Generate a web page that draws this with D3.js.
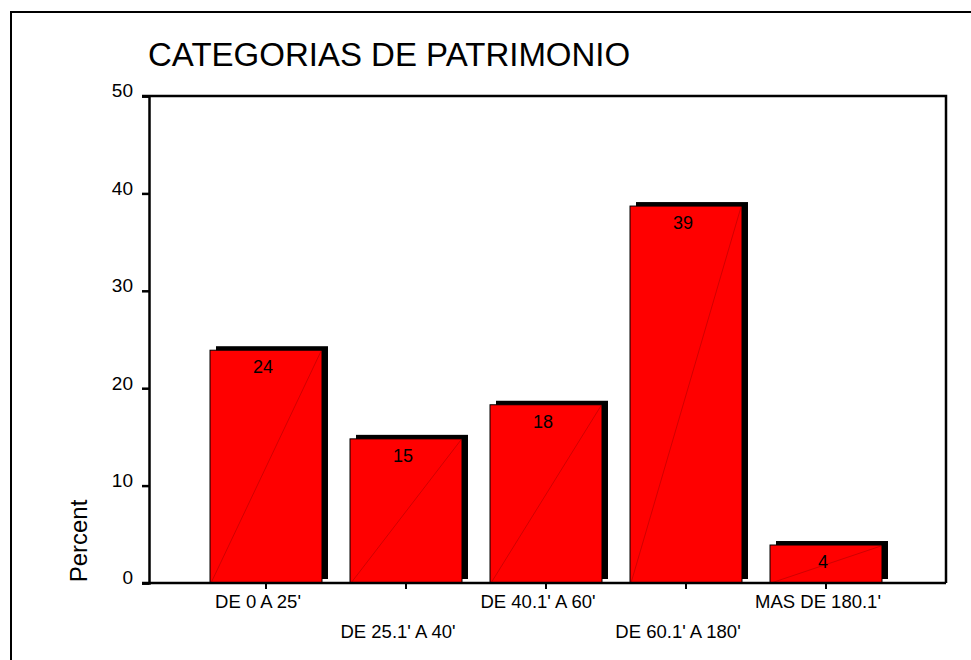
<!DOCTYPE html>
<meta charset="utf-8">
<script src="https://d3js.org/d3.v7.min.js"></script>
<style>
  body { margin: 0; background: #fff; }
  text { font-family: "Liberation Sans", Arial, sans-serif; fill: #000; }
</style>
<div id="chart"></div>
<script>
// data
var categories = ["DE 0 A 25'", "DE 25.1' A 40'", "DE 40.1' A 60'", "DE 60.1' A 180'", "MAS DE 180.1'"];
var percents = [23.9, 14.8, 18.3, 38.7, 3.9];
var valueLabels = ["24", "15", "18", "39", "4"];
var yTicks = [0, 10, 20, 30, 40, 50];

var W = 971, H = 660;
var svg = d3.select("#chart").append("svg")
    .attr("width", W).attr("height", H);

// outer frame (runs off the right and bottom)
svg.append("rect")
    .attr("x", 11).attr("y", 12)
    .attr("width", 1000).attr("height", 700)
    .attr("fill", "none").attr("stroke", "#000").attr("stroke-width", 2);

var plot = {left: 149, right: 946, top: 96, bottom: 583};

var y = d3.scaleLinear().domain([0, 50]).range([plot.bottom, plot.top]);
var x = d3.scaleBand().domain(categories)
    .range([196, 896]).paddingInner(0.2).paddingOuter(0.1);

// title
svg.append("text")
    .attr("x", 148).attr("y", 66)
    .style("font-size", "33px")
    .text("CATEGORIAS DE PATRIMONIO");

// y label
svg.append("text")
    .attr("transform", "translate(87,541) rotate(-90)")
    .attr("text-anchor", "middle")
    .style("font-size", "24px")
    .text("Percent");

// bars: shadow, fill, diagonal
var bars = svg.append("g").selectAll("g")
    .data(percents).enter().append("g");

bars.append("rect")
    .attr("x", function(d, i) { return x(categories[i]) + 6; })
    .attr("y", function(d) { return y(d) - 4; })
    .attr("width", x.bandwidth())
    .attr("height", function(d) { return plot.bottom - y(d); })
    .attr("fill", "#000");

bars.append("rect")
    .attr("x", function(d, i) { return x(categories[i]); })
    .attr("y", function(d) { return y(d); })
    .attr("width", x.bandwidth())
    .attr("height", function(d) { return plot.bottom - y(d); })
    .attr("fill", "#ff0000")
    .attr("stroke", "#000").attr("stroke-width", 1);

bars.append("line")
    .attr("x1", function(d, i) { return x(categories[i]) + 1; })
    .attr("y1", plot.bottom)
    .attr("x2", function(d, i) { return x(categories[i]) + x.bandwidth() - 1; })
    .attr("y2", function(d) { return y(d) + 1; })
    .attr("stroke", "#b00000").attr("stroke-width", 0.6);

bars.append("text")
    .attr("x", function(d, i) { return x(categories[i]) + x.bandwidth() / 2 - 3; })
    .attr("y", function(d) { return y(d) + 23; })
    .attr("text-anchor", "middle")
    .style("font-size", "18px")
    .text(function(d, i) { return valueLabels[i]; });

// plot frame (top and right)
svg.append("path")
    .attr("d", "M" + (plot.left - 7) + "," + plot.top + "H" + plot.right + "V" + plot.bottom)
    .attr("fill", "none").attr("stroke", "#000").attr("stroke-width", 2.5);

// y axis
var yAxis = svg.append("g")
    .attr("transform", "translate(" + plot.left + ",0)")
    .call(d3.axisLeft(y).tickValues(yTicks).tickSize(7).tickPadding(9));
yAxis.select(".domain").attr("stroke-width", 2.5);
yAxis.selectAll(".tick line").attr("stroke-width", 2.5);
yAxis.selectAll(".tick text").style("font-size", "19px").attr("dy", "0.05em")
    .style("font-family", "'Liberation Sans', Arial, sans-serif");

// x axis
var xAxis = svg.append("g")
    .attr("transform", "translate(0," + plot.bottom + ")")
    .call(d3.axisBottom(x).tickSize(6).tickSizeOuter(0));
xAxis.select(".domain")
    .attr("d", "M" + (plot.left - 7) + ",0H" + plot.right)
    .attr("stroke-width", 2.5);
xAxis.selectAll(".tick line").attr("stroke-width", 2);
xAxis.selectAll(".tick text")
    .style("font-size", "18.5px")
    .style("font-family", "'Liberation Sans', Arial, sans-serif")
    .attr("x", -8)
    .attr("y", function(d, i) { return i % 2 === 0 ? 12 : 42; })
    .attr("dy", "0.71em");
</script>
